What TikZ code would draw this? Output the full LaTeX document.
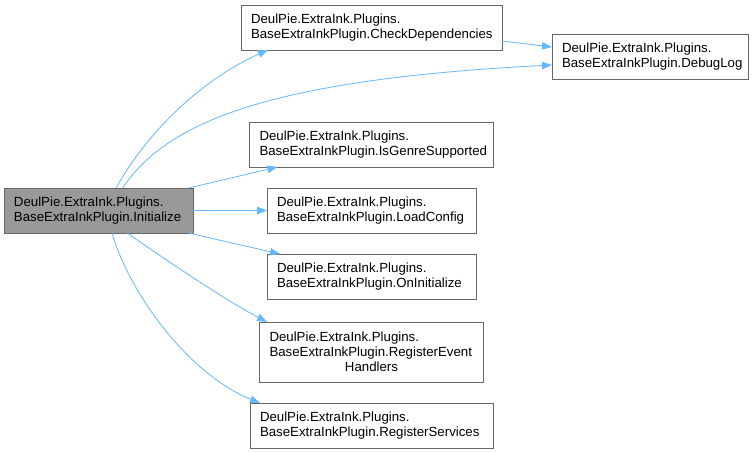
\documentclass[tikz,border=0pt]{standalone}
\usepackage{fontspec}
\setmainfont{Liberation Sans}
\usetikzlibrary{positioning,arrows.meta,calc}
\definecolor{edgeblue}{HTML}{63B8FF}
\definecolor{boxline}{HTML}{666666}
\definecolor{rootfill}{HTML}{999999}

\begin{document}
\begin{tikzpicture}[x=1bp, y=-1bp, >={Triangle[length=10bp,width=7.5bp]},
  font=\fontsize{13.3}{15}\selectfont,
  fn/.style={draw=boxline,line width=0.9bp,fill=white,align=left,inner xsep=10bp,inner ysep=4bp,outer sep=0pt,minimum height=45bp},
  root/.style={fn,fill=rootfill},
  call/.style={->,draw=edgeblue,line width=0.8bp}]
  \path[use as bounding box,fill=white] (0,0) rectangle (756,453);
  \node[root,text width=169bp](init) at (98.5,210.5){DeulPie.ExtraInk.Plugins.\\BaseExtraInkPlugin.Initialize};
  \node[fn,text width=189bp,right=74bp of init](load){DeulPie.ExtraInk.Plugins.\\BaseExtraInkPlugin.LoadConfig};
  \node[fn,text width=224bp,above=21bp of load](genre){DeulPie.ExtraInk.Plugins.\\BaseExtraInkPlugin.IsGenreSupported};
  \node[fn,text width=241bp,above=72bp of genre](chk){DeulPie.ExtraInk.Plugins.\\BaseExtraInkPlugin.CheckDependencies};
  \node[fn,text width=176bp,right=50bp of chk,yshift=-29bp](dbg){DeulPie.ExtraInk.Plugins.\\BaseExtraInkPlugin.DebugLog};
  \node[fn,text width=189bp,below=21bp of load](oninit){DeulPie.ExtraInk.Plugins.\\BaseExtraInkPlugin.OnInitialize};
  \node[fn,text width=204bp,minimum height=60bp,below=23bp of oninit](regev){DeulPie.ExtraInk.Plugins.\\BaseExtraInkPlugin.RegisterEvent\\\mbox{}\hfill Handlers\hfill\mbox{}};
  \node[fn,text width=223bp,below=21bp of regev](regsvc){DeulPie.ExtraInk.Plugins.\\BaseExtraInkPlugin.RegisterServices};
  % calls out of Initialize
  \draw[call](init.52) .. controls (150,127) and (207,77) .. ($(chk.south west)+(27,0)$);
  \draw[call](init.43) .. controls (165,125) and (260,80) .. ($(dbg.west)+(0,8.5)$);
  \draw[call](init.14)--($(genre.south west)+(28,0)$);
  \draw[call](init.east)--(load.west);
  \draw[call](init.-14)--($(oninit.north west)+(13,0)$);
  \draw[call](init.-38) .. controls (160,256) and (225,300) .. ($(regev.north west)+(7.5,0)$);
  \draw[call](init.-59) .. controls (130,295) and (190,375) .. ($(regsvc.north west)+(10,0)$);
  % CheckDependencies logs too
  \draw[call]($(chk.east)+(0,13.5)$)--($(dbg.west)+(0,-9.5)$);
\end{tikzpicture}
\end{document}
